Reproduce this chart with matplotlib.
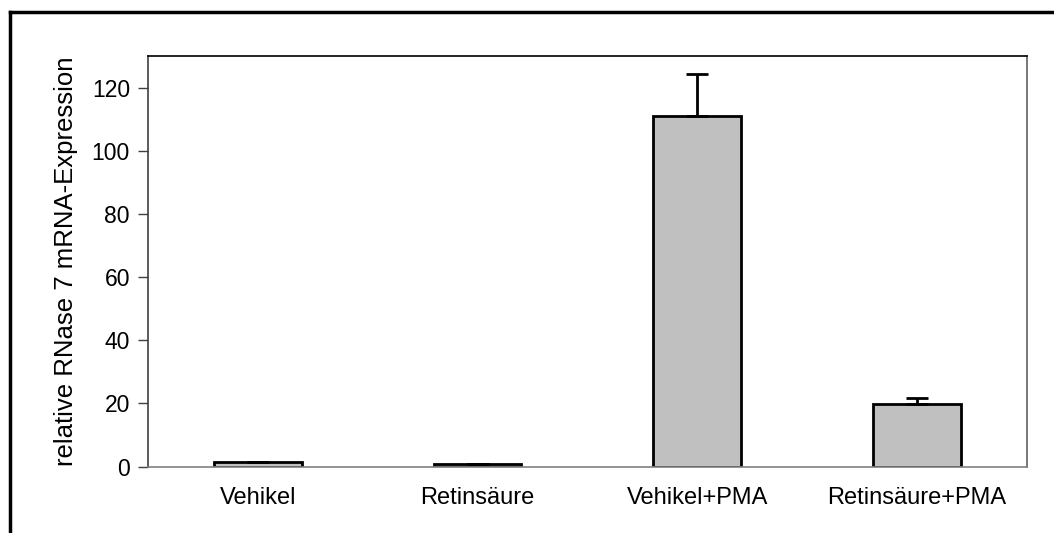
import matplotlib
matplotlib.use("Agg")
import matplotlib.pyplot as plt
from matplotlib.lines import Line2D

categories = ["Vehikel", "Retinsäure", "Vehikel+PMA", "Retinsäure+PMA"]
values = [1.3, 0.8, 110.9, 19.7]
errors = [0.2, 0.1, 13.5, 1.9]
yticks = [0, 20, 40, 60, 80, 100, 120]

plt.rcParams['font.family'] = ['Liberation Sans', 'DejaVu Sans']

fig = plt.figure(figsize=(10.54, 5.33), dpi=100)
ax = fig.add_axes([148/1054, 1 - 466.5/533, (1026.7-148)/1054, (466.5-56)/533])

x = [i + 0.5 for i in range(len(categories))]
ax.bar(x, values, width=0.4, color="#c0c0c0", edgecolor="black", linewidth=2, zorder=2)
ax.errorbar(x, values, yerr=[[0]*len(errors), errors], fmt="none", ecolor="black",
            elinewidth=2, capsize=8, capthick=2, zorder=3)

ax.set_xlim(0, 4)
ax.set_ylim(0, 130)
ax.set_yticks(yticks)
ax.set_xticks(x)
ax.set_xticklabels(categories, fontsize=17)
ax.tick_params(axis='x', length=0, pad=15)
ax.tick_params(axis='y', direction='out', length=7, width=1, labelsize=16.5, pad=6, color='#404040')
ax.set_ylabel("relative RNase 7 mRNA-Expression", fontsize=18.5, labelpad=10)

ax.spines['top'].set_color('black')
ax.spines['right'].set_color('#606060')
ax.spines['bottom'].set_color('#808080')
ax.spines['left'].set_color('#404040')
for s in ax.spines.values():
    s.set_linewidth(1.2)

# outer frame (top and left visible, right/bottom cut off)
fig.add_artist(Line2D([10/1054, 1.0], [1 - 12/533, 1 - 12/533], color='black', linewidth=2.5,
                      transform=fig.transFigure))
fig.add_artist(Line2D([10/1054, 10/1054], [0, 1 - 12/533], color='black', linewidth=2.5,
                      transform=fig.transFigure))

fig.savefig("out.png", dpi=100)
